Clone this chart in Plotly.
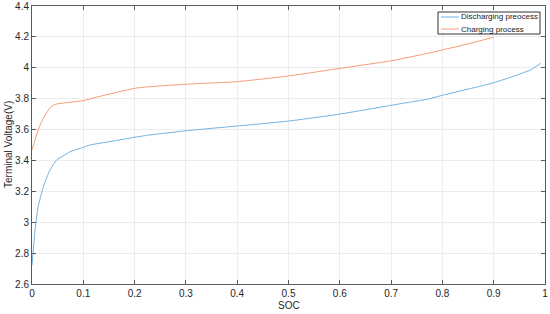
import plotly.graph_objects as go

discharge_soc = [0, 0.006, 0.012, 0.022, 0.035, 0.048, 0.061, 0.074, 0.1, 0.113, 0.159,
                 0.2, 0.23, 0.3, 0.4, 0.5, 0.6, 0.7, 0.776, 0.8, 0.9, 0.971, 0.992]
discharge_v = [2.72, 2.95, 3.1, 3.23, 3.338, 3.403, 3.43, 3.456, 3.485, 3.5, 3.526,
               3.55, 3.565, 3.592, 3.623, 3.655, 3.70, 3.757, 3.80, 3.822, 3.903, 3.985, 4.029]

charge_soc = [0, 0.01, 0.016, 0.025, 0.035, 0.045, 0.1, 0.126, 0.2, 0.227, 0.298,
              0.399, 0.5, 0.6, 0.701, 0.776, 0.85, 0.9]
charge_v = [3.47, 3.576, 3.63, 3.69, 3.74, 3.763, 3.787, 3.81, 3.867, 3.877, 3.893,
            3.91, 3.947, 3.996, 4.046, 4.097, 4.155, 4.198]

series_names = ["Discharging preocess", "Charging process"]
series_colors = ["#6FB2E2", "#F59C76"]

x_ticks = [0, 0.1, 0.2, 0.3, 0.4, 0.5, 0.6, 0.7, 0.8, 0.9, 1]
x_labels = ["0", "0.1", "0.2", "0.3", "0.4", "0.5", "0.6", "0.7", "0.8", "0.9", "1"]
y_ticks = [2.6, 2.8, 3, 3.2, 3.4, 3.6, 3.8, 4, 4.2, 4.4]
y_labels = ["2.6", "2.8", "3", "3.2", "3.4", "3.6", "3.8", "4", "4.2", "4.4"]

font = "Liberation Sans, Arial, sans-serif"

W, H = 550, 314
ML, MR, MT, MB = 32, 5, 6, 30
PW, PH = W - ML - MR, H - MT - MB


def px_x(p):
    return (p - ML) / PW


def px_y(p):
    return (H - MB - p) / PH


fig = go.Figure()
fig.add_trace(go.Scatter(x=discharge_soc, y=discharge_v, mode="lines",
                         name=series_names[0],
                         line=dict(color=series_colors[0], width=1, shape="spline", smoothing=0.5)))
fig.add_trace(go.Scatter(x=charge_soc, y=charge_v, mode="lines",
                         name=series_names[1],
                         line=dict(color=series_colors[1], width=1, shape="spline", smoothing=0.5)))

axis_common = dict(showline=True, linecolor="#5a5a5a", linewidth=1, mirror="ticks",
                   ticks="inside", ticklen=4, tickcolor="#5a5a5a", automargin=False,
                   showgrid=True, gridcolor="#ececec", gridwidth=1, zeroline=False,
                   tickfont=dict(family=font, size=10, color="#262626"))

# custom legend box (compact MATLAB-style legend)
shapes = [dict(type="rect", xref="paper", yref="paper",
               x0=px_x(438), x1=px_x(540), y0=px_y(34), y1=px_y(12),
               fillcolor="white", line=dict(color="#333333", width=1), layer="above")]
annotations = []
for i, (name, col) in enumerate(zip(series_names, series_colors)):
    yy = px_y(17 + 12 * i)
    shapes.append(dict(type="line", xref="paper", yref="paper",
                       x0=px_x(441), x1=px_x(459), y0=yy, y1=yy,
                       line=dict(color=col, width=1), layer="above"))
    annotations.append(dict(xref="paper", yref="paper", x=px_x(459), y=yy,
                            xanchor="left", yanchor="middle", showarrow=False,
                            text=name, font=dict(family=font, size=8, color="#1a1a1a")))

annotations.append(dict(xref="paper", yref="paper", x=0.5, y=px_y(305),
                        xanchor="center", yanchor="middle", showarrow=False,
                        text="SOC", font=dict(family=font, size=10, color="#262626")))
annotations.append(dict(xref="paper", yref="paper", x=px_x(8), y=0.5,
                        xanchor="center", yanchor="middle", showarrow=False, textangle=-90,
                        text="Terminal Voltage(V)", font=dict(family=font, size=10, color="#262626")))

fig.update_layout(
    width=W, height=H,
    margin=dict(l=ML, r=MR, t=MT, b=MB, autoexpand=False),
    paper_bgcolor="white", plot_bgcolor="white",
    font=dict(family=font, size=10, color="#262626"),
    showlegend=False,
    xaxis=dict(range=[0, 1], tickvals=x_ticks, ticktext=x_labels, **axis_common),
    yaxis=dict(range=[2.6, 4.4], tickvals=y_ticks, ticktext=y_labels, **axis_common),
    shapes=shapes,
    annotations=annotations,
)

fig.write_html("out.html", config={"displayModeBar": False},
               post_script="document.body.style.margin='0';document.body.style.overflow='hidden';")
